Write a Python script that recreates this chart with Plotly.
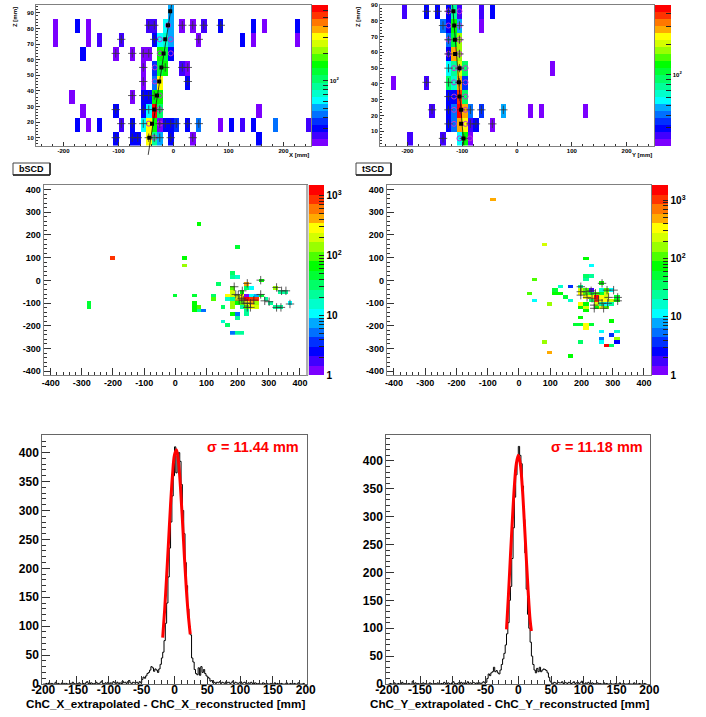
import numpy as np
import plotly.graph_objects as go

W, H = 706, 717
FONT = "Liberation Sans"

# colour bands of the ROOT palette, bottom to top
PALETTE = ["#7b00ff", "#4000ff", "#0000ff", "#0030ff", "#0070ff", "#00a8ff", "#00ffff",
           "#00ffcc", "#00ff99", "#00ff66", "#00ff33", "#00ff00", "#4cff00", "#99ff00",
           "#d4ff00", "#ffff00", "#ffaa00", "#ff7700", "#ff3300", "#ff0000"]

# --- top left: X-Z view. One dict per Z row: {left edge of X bin: colour band}
XZ_ROW_CENTRES = [9.5, 18.5, 27.5, 36.5, 45.5, 54.5, 63.5, 72.5, 81.5, 90.5]
XZ_ROWS = [
    {-110: 2, -80: 2, -70: 2, -50: 15, -40: 8, -30: 5, -10: 2, 30: 0, 150: 2},
    {-180: 2, -160: 0, -140: 2, -100: 1, -80: 2, -60: 6, -50: 15, -40: 11, -30: 0, -20: 2, -10: 2,
     0: 3, 20: 2, 40: 4, 80: 0, 100: 2, 120: 1, 140: 2, 180: 4, 240: 1},
    {-170: 0, -110: 2, -60: 2, -50: 6, -40: 19, -30: 9, 150: 0},
    {-190: 0, -80: 0, -60: 2, -50: 2, -40: 11, -30: 11},
    {-60: 0, -40: 4, -30: 15, 20: 2},
    {-60: 0, -40: 3, -30: 10, -20: 11, 10: 1, 20: 0},
    {-170: 2, -110: 0, -80: 0, -60: 0, -50: 0, -30: 11, -20: 10, -10: 2},
    {-220: 0, -160: 0, -140: 1, -100: 1, -40: 2, -30: 6, -20: 7, -10: 5, 40: 0, 120: 2, 140: 0, 220: 0},
    {-220: 0, -180: 2, -160: 0, -50: 1, -40: 1, -20: 6, -10: 5, 10: 0, 30: 0, 50: 1, 80: 2, 140: 2,
     160: 0, 220: 2},
    {-10: 5},
]
XZ_CROSS_X = [-105, -75, -65, -45, -35, -25, -5, 35,
              -95, -75, -55, -25, -15, -5, 5, 26, 46,
              -105, -55, -45, -25,
              -75, -55, -45, -35,
              -55, 26,
              -55, -15, 16, 26,
              -105, -75, -55, -45,
              -95, -35, 46,
              -45, -35, 16, 35, 55, 86]
XZ_CROSS_Z = [10, 10, 10, 10, 10, 10, 10, 10,
              19, 19, 19, 19, 19, 19, 19, 19, 19,
              28, 28, 28, 28,
              37, 37, 37, 37,
              46, 46,
              55, 55, 55, 55,
              64, 64, 64, 64,
              73, 73, 73,
              82, 82, 82, 82, 82, 82]
XZ_RING_X = [-35, -25, -45, -25, -25, -34, -34, -25, -5, -25, -5, -10]
XZ_RING_Z = [10, 19, 19, 28, 37, 46, 55, 64, 64, 73, 73, 82]
XZ_DOT_X = [-44, -39, -35, -30, -26, -22, -18, -15, -10, -6]
XZ_DOT_Z = [10, 19, 28, 37, 46, 55, 64, 73, 82, 91]
XZ_FIT_X = [-46, -3.6]
XZ_FIT_Z = [-1, 95]

# --- top right: Y-Z view
YZ_ROW_CENTRES = [5.45, 14.35, 23.25, 32.15, 41.05, 49.95, 58.85, 67.75, 76.65, 85.55]
YZ_ROWS = [
    {-200: 1, -140: 1, -110: 6, -100: 11, -90: 0},
    {-130: 2, -120: 4, -110: 16, -100: 15, -90: 1, -80: 2, -50: 0},
    {-160: 1, -130: 2, -120: 4, -110: 19, -100: 16, -90: 4, -70: 3, -30: 5, 20: 0, 40: 0, 120: 0},
    {-130: 2, -120: 2, -110: 18, -100: 9},
    {-230: 0, -170: 1, -130: 9, -120: 7, -110: 16, -100: 3},
    {-130: 6, -120: 8, -110: 14, -100: 9, 60: 0},
    {-130: 2, -120: 16, -110: 13},
    {-130: 4, -120: 10, -110: 13},
    {-140: 4, -130: 2, -120: 11, -110: 5, -70: 0},
    {-210: 1, -170: 2, -150: 2, -130: 2, -120: 8, -110: 1, -70: 1, -50: 2},
]
YZ_CROSS_X = [-135, -97, -125, -85, -75, -45,
              -155, -125, -102, -85, -65, -25,
              -125, -105,
              -165, -125, -105,
              -125, -105,
              -125, -105,
              -125, -105,
              -135, -105,
              -165, -145, -125]
YZ_CROSS_Z = [5.5, 5.5, 14.7, 14.7, 14.7, 14.7,
              23.6, 23.6, 23.6, 23.6, 23.6, 23.6,
              32, 32,
              41, 41, 41,
              50, 50,
              59, 59,
              68, 68,
              77, 77,
              86, 86, 86]
YZ_RING_X = [-105, -86, -115, -94, -115, -94, -115, -94, -115, -94, -115, -94, -105, -125, -105, -125, -105, -125, -105, -125, -105]
YZ_RING_Z = [5.5, 5.5, 14.7, 14.7, 23.6, 23.6, 32, 32, 41, 41, 50, 50, 59, 68, 68, 77, 77, 86, 86, 59, 50]
YZ_DOT_X = [-97.6, -102, -102, -105, -106, -105, -113, -113.4, -114.6, -116]
YZ_DOT_Z = [5.5, 14.7, 23.6, 32, 41, 50, 59, 68, 77, 86]
YZ_FIT_X = [-118, -97]
YZ_FIT_Z = [91.7, 1]

# --- middle left: bSCD cells as (x, y, colour band)
BSCD_CELLS = [
    (77, 248, 11), (200, 149, 10), (-200, 100, 18), (31, 100, 11), (31, 67, 13), (-277, -97, 10),
    (-277, -114, 10), (0, -65, 10), (61, -65, 10), (123, -65, 9), (123, -81, 12), (138, -15, 9),
    (185, 34, 9), (185, 18, 8), (200, 18, 7), (154, -114, 9), (61, -97, 11), (61, -114, 11),
    (61, -130, 11), (77, -114, 12), (77, -130, 8), (92, -130, 4), (185, -97, 13), (185, -114, 13),
    (185, -147, 11), (200, -147, 4), (200, -163, 8), (231, -130, 8), (231, -147, 8), (154, -180, 7),
    (169, -196, 9), (185, -229, 4), (200, -229, 8), (215, -229, 8), (108, -262, 16), (154, -262, 11),
    (277, -262, 9), (354, -295, 13), (46, -311, 11),
    (231, -15, 16), (231, -32, 9), (246, -32, 6), (277, 1, 11), (185, -32, 12), (323, -32, 13),
    (338, -48, 8), (354, -48, 8), (215, -48, 11), (185, -48, 14),
    (261, -65, 5), (277, -65, 10), (170, -65, 15), (185, -65, 14), (200, -65, 14), (215, -65, 15),
    (231, -65, 0), (246, -65, 6),
    (170, -81, 7), (185, -81, 8), (200, -81, 15), (215, -81, 16), (231, -81, 19), (246, -81, 18),
    (261, -81, 18), (292, -81, 8),
    (200, -97, 11), (215, -97, 12), (231, -97, 15), (246, -97, 16), (261, -97, 13), (308, -97, 8),
    (369, -97, 6),
    (215, -114, 8), (231, -114, 12), (246, -114, 15), (261, -114, 14), (323, -114, 8), (338, -114, 8),
]
BSCD_CROSS_X = [189, 215, 231, 274, 325, 341, 355, 274, 194, 205, 218, 231, 241, 231, 241, 287, 301,
                325, 339, 368, 202, 213, 223, 252]
BSCD_CROSS_Y = [-28, -46, -13, 1, -31, -46, -46, -62, -62, -87, -87, -101, -101, -119, -119, -90, -94,
                -119, -119, -104, -65, -79, -101, -87]

# --- middle right: tSCD cells as (x, y, colour band)
TSCD_CELLS = [
    (-83, 356, 16), (83, 156, 14), (215, 95, 11), (232, 64, 6), (215, 18, 9), (232, 18, 8), (215, 3, 8),
    (50, 3, 12), (265, -12, 11), (132, -28, 7), (165, -28, 3), (198, -28, 8),
    (116, -43, 10), (198, -43, 14), (215, -43, 12), (232, -43, 1), (265, -43, 7), (281, -43, 12),
    (298, -43, 6), (116, -58, 11), (132, -58, 11), (33, -58, 12), (198, -58, 15), (215, -58, 12),
    (232, -58, 10), (248, -58, 12), (265, -58, 10), (281, -58, 14),
    (149, -74, 10), (215, -74, 15), (232, -74, 15), (248, -74, 19), (265, -74, 15), (281, -74, 14),
    (314, -74, 10), (165, -89, 7), (50, -89, 6), (232, -89, 9), (248, -89, 18), (265, -89, 15),
    (281, -89, 15), (298, -89, 14), (314, -89, 11),
    (99, -104, 13), (198, -104, 15), (215, -104, 11), (248, -104, 14), (265, -104, 8), (281, -104, 6),
    (298, -104, 8), (198, -120, 11), (215, -120, 14), (248, -120, 11), (265, -120, 15), (281, -120, 12),
    (215, -135, 11), (198, -166, 11), (298, -181, 11), (182, -196, 10), (198, -196, 10), (215, -196, 15),
    (232, -196, 10), (215, -212, 15), (265, -227, 6), (314, -227, 7), (298, -242, 3), (265, -258, 4),
    (314, -258, 13), (265, -273, 6), (314, -273, 2), (83, -273, 13), (198, -273, 9), (281, -288, 19),
    (298, -288, 9), (99, -319, 16), (165, -334, 11),
]
TSCD_CROSS_X = [198, 198, 198, 215, 231, 266, 282, 303, 316, 316, 241, 241, 271, 255, 218, 234, 284, 266, 245, 287]
TSCD_CROSS_Y = [-28, -50, -65, -50, -46, -13, -43, -43, -75, -90, -109, -123, -123, -87, -75, -79, -101, -101, -57, -75]

# --- bottom: residual histograms (2 mm bins)
RES_X_LEFT = [0, 0, 1, 0, 2, 0, 1, 0, 0, 3, 0, 1, 0, 0, 2, 0, 1, 1, 0, 0, 1, 0, 3, 1, 0, 0, 1, 2, 0, 0, 1, 0, 2,
              4, 1, 0, 2, 1, 0, 1, 3, 0, 1, 2, 5, 1, 0, 2, 1, 3, 0, 2, 1, 4, 2, 1, 3, 0, 2, 1, 5, 2, 3, 1, 4, 6,
              2, 1, 3, 2]
RES_X_CORE = [2, 3, 1, 4, 2, 8, 12, 10, 14, 18, 20, 24, 30, 28, 22, 26, 24, 20, 26, 34, 45, 55, 75, 105, 140, 185,
              235, 280, 325, 360, 410, 365, 395, 400, 385, 345, 300, 260, 210, 170, 130, 100, 85, 45, 38, 25, 18,
              16, 28, 15, 30, 20, 25, 18, 14, 12, 10, 5, 6, 2, 3]
RES_X_RIGHT = [1, 3, 2, 4, 1, 3, 2, 1, 4, 2, 3, 1, 2, 5, 1, 3, 2, 1, 2, 4, 1, 2, 3, 1, 0, 2, 1, 3, 1, 0, 2, 1, 0, 1,
               0, 0, 2, 1, 0, 1, 0, 0, 1, 0, 0, 2, 0, 1, 0, 0, 1, 0, 0, 0, 2, 0, 0, 1, 0, 0, 1, 0, 0, 2, 0, 0, 0, 1, 0]
RES_X_FIT_X = [-18, -15, -12, -9, -6, -3, 0, 3, 6, 9, 12, 15, 18, 21, 24]
RES_X_FIT_Y = [80, 128, 186, 248, 310, 362, 396, 405, 385, 342, 285, 222, 165, 120, 86]

RES_Y_LEFT = [0, 1, 0, 0, 2, 0, 0, 1, 0, 0, 3, 0, 1, 0, 0, 1, 0, 0, 5, 1, 2, 0, 1, 0, 0, 1, 2, 0, 1, 0, 0, 2, 1, 0,
              0, 1, 0, 2, 1, 0, 1, 0, 3, 1, 0, 2, 1, 0, 2, 4, 1, 0, 1, 2, 0, 3, 1, 2, 0, 1, 4, 1, 2, 1, 3, 2, 1, 2,
              0, 2]
RES_Y_CORE = [1, 2, 4, 2, 3, 10, 18, 15, 20, 22, 30, 22, 24, 20, 18, 25, 35, 45, 55, 70, 90, 110, 150, 175, 225, 280,
              335, 375, 400, 426, 410, 395, 355, 295, 235, 170, 125, 100, 75, 50, 35, 25, 20, 28, 22, 30, 22, 25, 27,
              26, 24, 20, 12, 5, 2, 1, 3, 2, 1, 3, 2]
RES_Y_CORE_START = -58
RES_Y_RIGHT = [2, 4, 1, 3, 2, 1, 3, 2, 1, 2, 4, 1, 2, 3, 1, 2, 5, 1, 0, 2, 1, 3, 1, 0, 2, 1, 0, 1, 2, 0, 1, 0, 0, 2,
               0, 1, 0, 0, 1, 0, 0, 0, 1, 0, 0, 2, 0, 0, 1, 0, 0, 0, 1, 0, 0, 0, 2, 0, 0, 0, 1, 0, 0, 0, 1, 0, 0]
RES_Y_FIT_X = [-18, -15, -12, -9, -6, -3, 0, 3, 6, 9, 12, 15, 18, 20]
RES_Y_FIT_Y = [98, 160, 230, 295, 355, 395, 410, 395, 355, 295, 230, 167, 115, 95]

SIGMA_X_TEXT = "σ = 11.44 mm"
SIGMA_Y_TEXT = "σ = 11.18 mm"
XTITLE_RES_X = "ChC_X_extrapolated - ChC_X_reconstructed [mm]"
XTITLE_RES_Y = "ChC_Y_extrapolated - ChC_Y_reconstructed [mm]"


def fx(px):
    return px / W


def fy(py):
    return 1 - py / H


N = len(PALETTE)
SCALE = []
for i, c in enumerate(PALETTE):
    SCALE += [[i / N, c], [(i + 1) / N, c]]

fig = go.Figure()
layout = {}
annotations = []
shapes = []


def tick_lists(rng, step):
    lo = int(np.ceil(rng[0] / step)) * step
    vals = list(range(lo, int(rng[1]) + 1, step))
    return vals, [str(v) for v in vals]


def add_axes(idx, box, xrange, yrange, xdt, xminor, ydt, yminor, size, bold, ticklen, linecolor, xoff, yoff=0):
    l, r, t, b = box
    sfx = "" if idx == 1 else str(idx)
    tickfont = dict(family=FONT, size=size, color="black", weight=700 if bold else 400)
    common = dict(showgrid=False, zeroline=False, ticks="inside", ticklen=ticklen, tickcolor="#333",
                  tickwidth=1, showline=True, mirror=True, linecolor=linecolor, linewidth=1,
                  tickfont=tickfont, automargin=False, fixedrange=True, tickmode="array")
    xv, xt = tick_lists(xrange, xdt)
    yv, yt = tick_lists(yrange, ydt)
    layout["xaxis" + sfx] = dict(domain=[fx(l), fx(r)], range=xrange, anchor="y" + sfx, tickvals=xv, ticktext=xt,
                                 ticklabelstandoff=xoff,
                                 minor=dict(ticks="inside", ticklen=ticklen / 2, tickmode="linear", dtick=xminor,
                                            tick0=0, tickcolor="#333"), **common)
    layout["yaxis" + sfx] = dict(domain=[fy(b), fy(t)], range=yrange, anchor="x" + sfx, tickvals=yv, ticktext=yt,
                                 ticklabelstandoff=yoff,
                                 minor=dict(ticks="inside", ticklen=ticklen / 2, tickmode="linear", dtick=yminor,
                                            tick0=0, tickcolor="#333"), **common)
    return "x" + sfx, "y" + sfx


def colorbar(l, r, t, b, lo, hi, major, minor, size, bold, ticklen):
    span = np.log10(hi / lo)
    pos = lambda v: float(N * np.log10(v / lo) / span)
    vals = [pos(v) for v, _ in major] + [pos(v) for v in minor]
    text = [s for _, s in major] + ["" for _ in minor]
    return dict(x=fx(l), xanchor="left", y=fy(b), yanchor="bottom", len=b - t, lenmode="pixels",
                thickness=r - l, thicknessmode="pixels", xpad=0, ypad=0, outlinewidth=0,
                tickmode="array", tickvals=vals, ticktext=text, ticks="inside", ticklen=ticklen,
                tickcolor="#222", tickwidth=1,
                tickfont=dict(family=FONT, size=size, color="black", weight=700 if bold else 400))


def rows_to_matrix(rows, edges):
    return [[(row[e] + 0.5) if e in row else None for e in edges] for row in rows]


def cells_to_matrix(cells, x0, dx, y0, dy, ncols_low, ncols_high, nrows_low, nrows_high):
    cols = list(range(ncols_low, ncols_high + 1))
    rws = list(range(nrows_low, nrows_high + 1))
    z = [[None] * len(cols) for _ in rws]
    for x, y, band in cells:
        c = int(round((x - x0) / dx)) - ncols_low
        r = int(round((y - y0) / dy)) - nrows_low
        z[r][c] = band + 0.5
    return [x0 + dx * c for c in cols], [y0 + dy * r for r in rws], z


def add_hits(xa, ya, cx, cy, rx=None, ry=None, dx=None, dy=None, crosssize=6):
    if rx is not None:
        fig.add_trace(go.Scatter(x=rx, y=ry, mode="markers", xaxis=xa, yaxis=ya, showlegend=False,
                                 marker=dict(symbol="circle-open", size=5, color="#c030d0", line=dict(width=1)),
                                 hoverinfo="skip"))
    fig.add_trace(go.Scatter(x=cx, y=cy, mode="markers", xaxis=xa, yaxis=ya, showlegend=False,
                             marker=dict(symbol="cross-thin", size=crosssize, color="#333",
                                         line=dict(width=0.8, color="#333")), hoverinfo="skip"))
    if dx is not None:
        fig.add_trace(go.Scatter(x=dx, y=dy, mode="markers", xaxis=xa, yaxis=ya, showlegend=False,
                                 marker=dict(symbol="square", size=4, color="black"), hoverinfo="skip"))


def add_fit(xa, ya, fx_vals, fy_vals):
    fig.add_trace(go.Scatter(x=fx_vals, y=fy_vals, mode="lines", line=dict(color="#111", width=0.8),
                             xaxis=xa, yaxis=ya, showlegend=False, hoverinfo="skip"))


def note(px, py, text, size, color="black", bold=True, angle=0, xanchor="center", yanchor="middle", **kw):
    annotations.append(dict(xref="paper", yref="paper", x=fx(px), y=fy(py), text=text, showarrow=False,
                            xanchor=xanchor, yanchor=yanchor, textangle=angle,
                            font=dict(family=FONT, size=size, color=color, weight=700 if bold else 400), **kw))


def button(l, r, t, b, text, size):
    shapes.append(dict(type="rect", xref="paper", yref="paper", x0=fx(l), x1=fx(r), y0=fy(b), y1=fy(t),
                       fillcolor="white", line=dict(color="#444", width=1)))
    shapes.append(dict(type="line", xref="paper", yref="paper", x0=fx(l), x1=fx(r), y0=fy(b), y1=fy(b),
                       line=dict(color="#222", width=1.5)))
    shapes.append(dict(type="line", xref="paper", yref="paper", x0=fx(r), x1=fx(r), y0=fy(b), y1=fy(t),
                       line=dict(color="#222", width=1.5)))
    note((l + r) / 2, (t + b) / 2, text, size)


EDGES = list(range(-250, 250, 10))
CENTRES = [e + 5 for e in EDGES]
GREY = "#808080"

# Panel 1
xa, ya = add_axes(1, (36, 311, 5, 145.5), [-250, 250], [5, 95], 100, 20, 10, 2, 6, True, 4, GREY, -1)
fig.add_trace(go.Heatmap(x=CENTRES, y=XZ_ROW_CENTRES, z=rows_to_matrix(XZ_ROWS, EDGES), colorscale=SCALE, zmin=0,
                         zmax=N, xaxis=xa, yaxis=ya, hoverinfo="skip",
                         colorbar=colorbar(312, 328, 5, 145.5, 19.5, 690, [(100, "10<sup>2</sup>")],
                                           [30, 40, 50, 60, 70, 80, 90, 200, 300, 400, 500, 600], 6, True, 5)))
# the fit line runs past the frame: it lives on a hidden axis pair that reaches further down
layout["xaxis7"] = dict(domain=[fx(36), fx(311)], range=[-250, 250], anchor="y7", visible=False, fixedrange=True)
layout["yaxis7"] = dict(domain=[fy(156.5), fy(5)], range=[5 - 11 * 90 / 140.5, 95], anchor="x7", visible=False,
                        fixedrange=True)
add_hits(xa, ya, XZ_CROSS_X, XZ_CROSS_Z, XZ_RING_X, XZ_RING_Z, XZ_DOT_X, XZ_DOT_Z)
add_fit("x7", "y7", XZ_FIT_X, XZ_FIT_Z)
note(15, 5, "Z [mm]", 6, angle=-90, yanchor="top")
note(311, 155, "X [mm]", 6, xanchor="right")

# Panel 2
xa, ya = add_axes(2, (380, 654, 5, 145.5), [-250, 250], [1, 90], 100, 20, 10, 2, 6, True, 4, GREY, -1)
fig.add_trace(go.Heatmap(x=CENTRES, y=YZ_ROW_CENTRES, z=rows_to_matrix(YZ_ROWS, EDGES), colorscale=SCALE, zmin=0,
                         zmax=N, xaxis=xa, yaxis=ya, hoverinfo="skip",
                         colorbar=colorbar(655, 671, 5, 145.5, 20, 495, [(100, "10<sup>2</sup>")],
                                           [30, 40, 50, 60, 70, 80, 90, 200, 300, 400], 6, True, 5)))
add_fit(xa, ya, YZ_FIT_X, YZ_FIT_Z)
add_hits(xa, ya, YZ_CROSS_X, YZ_CROSS_Z, YZ_RING_X, YZ_RING_Z, YZ_DOT_X, YZ_DOT_Z)
note(358, 5, "Z [mm]", 6, angle=-90, yanchor="top")
note(654, 155, "Y [mm]", 6, xanchor="right")

# Panel 3
LOG_TICKS = [2, 3, 4, 5, 6, 7, 8, 9, 20, 30, 40, 50, 60, 70, 80, 90, 200, 300, 400, 500, 600, 700, 800, 900]
xa, ya = add_axes(3, (43.5, 306.5, 185, 375.3), [-423, 421], [-418, 420], 100, 20, 100, 20, 9, True, 7, GREY, -1)
xs, ys, z = cells_to_matrix(BSCD_CELLS, -200, 15.38, 100, 16.45, -15, 40, -20, 30)
fig.add_trace(go.Heatmap(x=xs, y=ys, z=z, colorscale=SCALE, zmin=0, zmax=N, xaxis=xa, yaxis=ya, hoverinfo="skip",
                         colorbar=colorbar(309, 324, 185, 375.3, 1, 1480,
                                           [(1, "1"), (10, "10"), (100, "10<sup>2</sup>"), (1000, "10<sup>3</sup>")],
                                           LOG_TICKS, 10, True, 5)))
add_hits(xa, ya, BSCD_CROSS_X, BSCD_CROSS_Y)
shapes.append(dict(type="rect", xref="paper", yref="paper", x0=fx(306), x1=fx(308.5), y0=fy(375.3), y1=fy(185),
                   fillcolor="#b0b0b0", line=dict(width=0)))
button(13, 50, 163, 175, "bSCD", 9)

# Panel 4
xa, ya = add_axes(4, (386.7, 650.5, 185, 375.3), [-423, 421], [-418, 420], 100, 20, 100, 20, 9, True, 7, GREY, -1)
xs, ys, z = cells_to_matrix(TSCD_CELLS, 215, 16.56, 3, 15.34, -20, 15, -30, 30)
fig.add_trace(go.Heatmap(x=xs, y=ys, z=z, colorscale=SCALE, zmin=0, zmax=N, xaxis=xa, yaxis=ya, hoverinfo="skip",
                         colorbar=colorbar(652, 667.5, 185, 375.3, 1, 1800,
                                           [(1, "1"), (10, "10"), (100, "10<sup>2</sup>"), (1000, "10<sup>3</sup>")],
                                           LOG_TICKS, 10, True, 5)))
add_hits(xa, ya, TSCD_CROSS_X, TSCD_CROSS_Y)
button(356, 391, 163, 175, "tSCD", 9)


def hist(idx, box, yr, left, core, core_start, right, fitx, fity, sigma, sigma_px, title, title_px):
    xa, ya = add_axes(idx, box, [-201.5, 201.5], yr, 50, 10, 50, 10, 12, True, 8, "#666", -5)
    core_x = [core_start + 2 * i for i in range(len(core))]
    left_x = [core_start - 2 * (len(left) - i) for i in range(len(left))]
    right_x = [core_x[-1] + 2 * (i + 1) for i in range(len(right))]
    fig.add_trace(go.Scatter(x=left_x + core_x + right_x, y=left + core + right, mode="lines",
                             line=dict(color="black", width=1, shape="hv"), xaxis=xa, yaxis=ya,
                             showlegend=False, hoverinfo="skip"))
    fig.add_trace(go.Scatter(x=fitx, y=fity, mode="lines", line=dict(color="#ff0000", width=3, shape="spline"),
                             xaxis=xa, yaxis=ya, showlegend=False, hoverinfo="skip"))
    note(sigma_px, 447, sigma, 14.5, color="#ff0000")
    note(title_px, 703, title, 11.7)


hist(5, (42.3, 306.7, 434.7, 684), [0, 431], RES_X_LEFT, RES_X_CORE, -60, RES_X_RIGHT, RES_X_FIT_X, RES_X_FIT_Y,
     SIGMA_X_TEXT, 253, XTITLE_RES_X, 165.5)
hist(6, (386.3, 650.3, 434.7, 684), [0, 447], RES_Y_LEFT, RES_Y_CORE, RES_Y_CORE_START, RES_Y_RIGHT, RES_Y_FIT_X,
     RES_Y_FIT_Y, SIGMA_Y_TEXT, 597, XTITLE_RES_Y, 509)

fig.update_layout(width=W, height=H, autosize=False, margin=dict(l=0, r=0, t=0, b=0), paper_bgcolor="white",
                  plot_bgcolor="rgba(0,0,0,0)", showlegend=False, annotations=annotations, shapes=shapes, **layout)
fig.write_html("out.html", post_script="document.body.style.margin='0';", config=dict(displayModeBar=False))
